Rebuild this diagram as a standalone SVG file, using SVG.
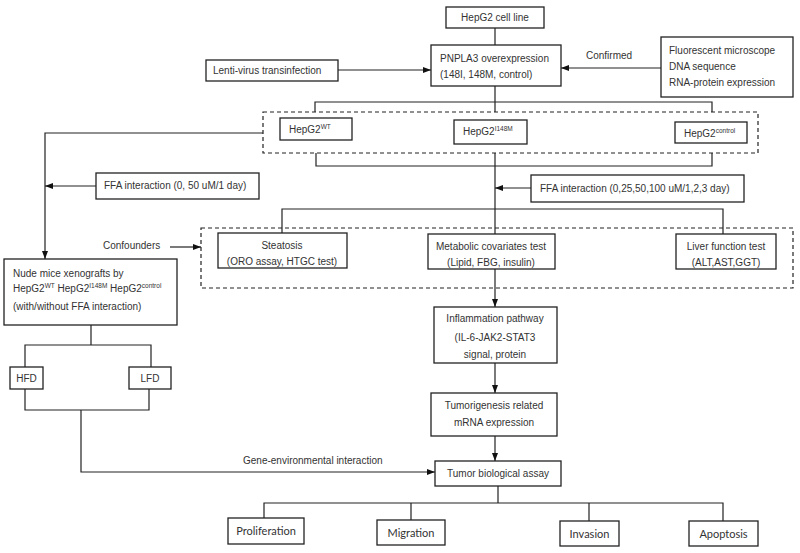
<svg xmlns="http://www.w3.org/2000/svg" width="800" height="553" viewBox="0 0 800 553">
<defs>
<marker id="ah" markerWidth="8" markerHeight="6" refX="8" refY="3" orient="auto" markerUnits="userSpaceOnUse">
<path d="M0,0 L8,3 L0,6 z" fill="#111"/>
</marker>
<style>
.b{fill:#fff;stroke:#222;stroke-width:1.3}
.d{fill:none;stroke:#222;stroke-width:1.2;stroke-dasharray:4 3}
.t{font-family:"Liberation Sans",Arial,sans-serif;font-size:10px;fill:#333}
.c{text-anchor:middle}
.s{font-size:6.5px}
.l{font-family:Lato,"Open Sans",sans-serif;font-size:11px;fill:#333;text-anchor:middle}
.ln{fill:none;stroke:#222;stroke-width:1.2}
.ar{fill:none;stroke:#222;stroke-width:1.2;marker-end:url(#ah)}
</style>
</defs>
<rect width="800" height="553" fill="#fff"/>

<g id="connectors">
<path class="ln" d="M495,28 V45"/>
<path class="ar" d="M338,70 H431"/>
<path class="ar" d="M661,68 H561"/>
<path class="ln" d="M495,86 V112 M315,112 V102 H712 V112"/>
<path class="ln" d="M316,153 V166 H712 V153"/>
<path class="ln" d="M495,153 V234"/>
<path class="ar" d="M263,133 H45 V259"/>
<path class="ar" d="M96,186 H45"/>
<path class="ar" d="M531,188 H495"/>
<path class="ln" d="M282,233 V209 H723 V234"/>
<path class="ar" d="M170,247 H201"/>
<path class="ar" d="M495,269 V307"/>
<path class="ar" d="M495,363 V393"/>
<path class="ar" d="M495,436 V461"/>
<path class="ln" d="M91,325 V345 M25,367 V345 H151 V367"/>
<path class="ln" d="M25,389 V410 H149 V389"/>
<path class="ar" d="M81,410 V472 H435"/>
<path class="ln" d="M498,486 V503 M264,518 V503 H723 V521 M411,503 V520 M589,503 V521"/>
</g>

<g id="dashed-groups">
<rect class="d" x="263" y="112" width="495" height="41"/>
<rect class="d" x="201" y="228" width="592" height="60"/>
</g>

<g id="hepg2-cell-line">
<rect class="b" x="446" y="7" width="98" height="21"/>
<text class="t c" x="495" y="21">HepG2 cell line</text>
</g>

<g id="pnpla3">
<rect class="b" x="431" y="45" width="130" height="41"/>
<text class="t" x="440" y="62">PNPLA3 overexpression</text>
<text class="t" x="440" y="78">(148I, 148M, control)</text>
</g>

<g id="lenti">
<rect class="b" x="206" y="60" width="132" height="21"/>
<text class="t" x="213" y="74">Lenti-virus transinfection</text>
</g>

<g id="confirmed-label">
<text class="t" x="586" y="59">Confirmed</text>
</g>

<g id="confirm-methods">
<rect class="b" x="661" y="37" width="132" height="60"/>
<text class="t" x="669" y="54">Fluorescent microscope</text>
<text class="t" x="669" y="70">DNA sequence</text>
<text class="t" x="669" y="86">RNA-protein expression</text>
</g>

<g id="hepg2-wt">
<rect class="b" x="280" y="118" width="72" height="22"/>
<text class="t" x="289" y="133">HepG2<tspan class="s" dy="-4">WT</tspan></text>
</g>

<g id="hepg2-i148m">
<rect class="b" x="454" y="120" width="73" height="24"/>
<text class="t" x="463" y="135">HepG2<tspan class="s" dy="-4">I148M</tspan></text>
</g>

<g id="hepg2-control">
<rect class="b" x="675" y="122" width="72" height="21"/>
<text class="t" x="684" y="137">HepG2<tspan class="s" dy="-4">control</tspan></text>
</g>

<g id="ffa-1">
<rect class="b" x="96" y="173" width="163" height="26"/>
<text class="t" x="104" y="189">FFA interaction (0, 50 uM/1 day)</text>
</g>

<g id="ffa-2">
<rect class="b" x="531" y="175" width="213" height="27"/>
<text class="t" x="540" y="192">FFA interaction (0,25,50,100 uM/1,2,3 day)</text>
</g>

<g id="confounders">
<text class="t" x="103" y="249">Confounders</text>
</g>

<g id="steatosis">
<rect class="b" x="218" y="233" width="129" height="35"/>
<text class="t c" x="282" y="249">Steatosis</text>
<text class="t c" x="282" y="265">(ORO assay, HTGC test)</text>
</g>

<g id="metabolic">
<rect class="b" x="428" y="234" width="127" height="35"/>
<text class="t c" x="491" y="250">Metabolic covariates test</text>
<text class="t c" x="491" y="266">(Lipid, FBG, insulin)</text>
</g>

<g id="liver">
<rect class="b" x="676" y="234" width="100" height="35"/>
<text class="t c" x="726" y="250">Liver function test</text>
<text class="t c" x="726" y="266">(ALT,AST,GGT)</text>
</g>

<g id="nude-mice">
<rect class="b" x="4" y="259" width="173" height="66"/>
<text class="t" x="13" y="277">Nude mice xenografts by</text>
<text class="t" x="13" y="292">HepG2<tspan class="s" dy="-4">WT</tspan><tspan dy="4"> HepG2</tspan><tspan class="s" dy="-4">I148M</tspan><tspan dy="4"> HepG2</tspan><tspan class="s" dy="-4">control</tspan></text>
<text class="t" x="13" y="310">(with/without FFA interaction)</text>
</g>

<g id="hfd">
<rect class="b" x="10" y="367" width="33" height="22"/>
<text class="t c" x="26.5" y="382">HFD</text>
</g>

<g id="lfd">
<rect class="b" x="129" y="367" width="42" height="22"/>
<text class="t c" x="150" y="382">LFD</text>
</g>

<g id="inflammation">
<rect class="b" x="434" y="307" width="123" height="56"/>
<text class="t c" x="495" y="322">Inflammation pathway</text>
<text class="t c" x="495" y="341">(IL-6-JAK2-STAT3</text>
<text class="t c" x="495" y="358">signal, protein</text>
</g>

<g id="tumorigenesis">
<rect class="b" x="431" y="393" width="126" height="43"/>
<text class="t c" x="494" y="409">Tumorigenesis related</text>
<text class="t c" x="494" y="426">mRNA expression</text>
</g>

<g id="gene-env-label">
<text class="t" x="243" y="464">Gene-environmental interaction</text>
</g>

<g id="tumor-assay">
<rect class="b" x="435" y="461" width="126" height="25"/>
<text class="t c" x="498" y="477">Tumor biological assay</text>
</g>

<g id="proliferation">
<rect class="b" x="228" y="518" width="76" height="26"/>
<text class="l" x="266" y="535">Proliferation</text>
</g>
<g id="migration">
<rect class="b" x="377" y="520" width="68" height="25"/>
<text class="l" x="411" y="537">Migration</text>
</g>
<g id="invasion">
<rect class="b" x="560" y="521" width="59" height="25"/>
<text class="l" x="589.5" y="538">Invasion</text>
</g>
<g id="apoptosis">
<rect class="b" x="689" y="521" width="69" height="25"/>
<text class="l" x="723.5" y="538">Apoptosis</text>
</g>
</svg>
